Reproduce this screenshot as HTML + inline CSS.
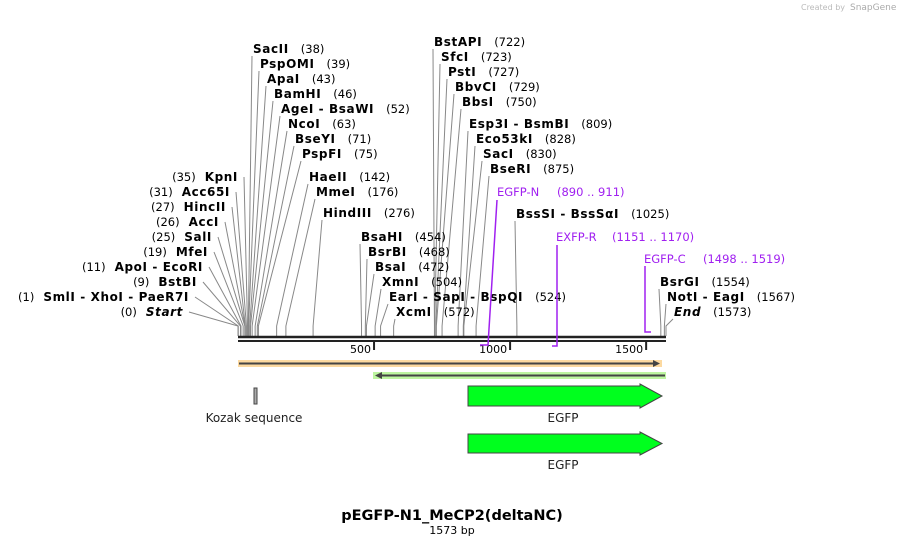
<!DOCTYPE html>
<html><head><meta charset="utf-8"><style>
html,body{margin:0;padding:0;background:#fff;}
svg{display:block;font-family:"DejaVu Sans","Liberation Sans",sans-serif;}
.n{font-weight:bold;font-size:12px;letter-spacing:0.6px;fill:#000}
.p{font-size:11.5px;fill:#000}
.pr{font-size:11.5px;fill:#a020f0}
</style></head><body>
<svg id="map" width="905" height="546" viewBox="0 0 905 546">
<text x="845" y="10" font-size="8" fill="#bbb" text-anchor="end">Created by</text>
<text x="850" y="10" font-size="9" fill="#aaa">SnapGene</text>
<g id="lines" stroke="#888" stroke-width="1" fill="none"></g>
<g id="labels"></g>
<line x1="238" y1="337" x2="666" y2="337" stroke="#222" stroke-width="2.5"/>
<line x1="238" y1="341" x2="666" y2="341" stroke="#222" stroke-width="2"/>
<g id="ticks"></g>
<g>
<polyline points="497,200 488,345 480,345" stroke="#a020f0" stroke-width="1.5" fill="none"/>
<text x="497" y="196" class="pr">EGFP-N</text><text x="557" y="196" class="pr" font-size="10.5">(890 .. 911)</text></g>
<g>
<polyline points="557,245 557,346 552,346" stroke="#a020f0" stroke-width="1.5" fill="none"/>
<text x="556" y="241" class="pr">EXFP-R</text><text x="612" y="241" class="pr" font-size="10.5">(1151 .. 1170)</text></g>
<g>
<polyline points="645,266 645,332 651,332" stroke="#a020f0" stroke-width="1.5" fill="none"/>
<text x="644" y="263" class="pr">EGFP-C</text><text x="703" y="263" class="pr" font-size="10.5">(1498 .. 1519)</text></g>
<g>
<rect x="238" y="360" width="424" height="7" fill="#fcd9a0"/>
<line x1="239" y1="363.5" x2="657" y2="363.5" stroke="#444" stroke-width="2"/>
<polygon points="653,360 660,363.5 653,367" fill="#444"/></g>
<g>
<rect x="373" y="372" width="293" height="7" fill="#bdf5a0"/>
<line x1="378" y1="375.5" x2="665" y2="375.5" stroke="#444" stroke-width="2"/>
<polygon points="382,372 375,375.5 382,379" fill="#444"/></g>
<g>
<rect x="254" y="388" width="3" height="16" fill="#aaa" stroke="#444" stroke-width="1"/>
<text x="254" y="422" text-anchor="middle" font-size="12" fill="#222">Kozak sequence</text></g>
<g>
<polygon points="468,386 640,386 640,384 662,396 640,408 640,406 468,406" fill="#00ff1e" stroke="#444" stroke-width="1"/>
<text x="563" y="422" text-anchor="middle" font-size="12" fill="#222">EGFP</text></g>
<g>
<polygon points="468,434 640,434 640,432 662,443.5 640,455 640,453 468,453" fill="#00ff1e" stroke="#444" stroke-width="1"/>
<text x="563" y="469" text-anchor="middle" font-size="12" fill="#222">EGFP</text></g>
<text x="452" y="520" text-anchor="middle" font-weight="bold" font-size="14.5" fill="#000">pEGFP-N1_MeCP2(deltaNC)</text>
<text x="452" y="534" text-anchor="middle" font-size="11" fill="#000">1573 bp</text>
</svg>
<script>
const totalLength = 1573;
const tickValues = [500, 1000, 1500];
const siteNames = ["SacII","PspOMI","ApaI","BamHI","AgeI  - BsaWI","NcoI","BseYI","PspFI","HaeII","MmeI","HindIII",
"BstAPI","SfcI","PstI","BbvCI","BbsI","Esp3I  - BsmBI","Eco53kI","SacI","BseRI","BssSI  - BssSαI",
"BsaHI","BsrBI","BsaI","XmnI","EarI  - SapI  - BspQI","XcmI","BsrGI","NotI  - EagI","End",
"KpnI","Acc65I","HincII","AccI","SalI","MfeI","ApoI  - EcoRI","BstBI","SmlI  - XhoI  - PaeR7I","Start"];
const sitePositions = [38,39,43,46,52,63,71,75,142,176,276,722,723,727,729,750,809,828,830,875,1025,454,468,472,504,524,572,1554,1567,1573,35,31,27,26,25,19,11,9,1,0];
// layout: [textX, baselineY, side] side 0 = right of line, 1 = text ends at textX
const layout = [[253,53,0],[260,68,0],[267,83,0],[274,98,0],[281,113,0],[288,128,0],[295,143,0],[302,158,0],[309,181,0],[316,196,0],[323,217,0],
[434,46,0],[441,61,0],[448,76,0],[455,91,0],[462,106,0],[469,128,0],[476,143,0],[483,158,0],[490,173,0],[516,218,0],
[361,241,0],[368,256,0],[375,271,0],[382,286,0],[389,301,0],[396,316,0],[660,286,0],[667,301,0],[674,316,0],
[238,181,1],[230,196,1],[226,211,1],[219,226,1],[212,241,1],[208,256,1],[203,271,1],[197,286,1],[189,301,1],[183,316,1]];
const X0=238, X1=666;
function xScale(bp){return X0+bp/totalLength*(X1-X0);}
const NS="http://www.w3.org/2000/svg";
const lg=document.getElementById('lines'), lb=document.getElementById('labels'), tg=document.getElementById('ticks');
siteNames.forEach((nm,i)=>{
  const [tx,ty,side]=layout[i]; const bx=xScale(sitePositions[i]);
  const g=document.createElementNS(NS,'g');
  
  
  const t=document.createElementNS(NS,'text'); t.setAttribute('class','n');
  if(nm==='Start'||nm==='End') t.setAttribute('font-style','italic');
  t.textContent=nm.replace(/  /g,'\u00a0');
  const n=document.createElementNS(NS,'text'); n.setAttribute('class','p'); n.textContent='('+sitePositions[i]+')';
  n.setAttribute('y',ty); t.setAttribute('y',ty);
  const l=document.createElementNS(NS,'polyline');
  if(side===0){
    t.setAttribute('x',tx); g.appendChild(t); lb.appendChild(g);
    const w=t.getComputedTextLength(); n.setAttribute('x',tx+w+12); g.appendChild(n);
    l.setAttribute('points',`${tx-1},${ty+3} ${bx},326 ${bx},336`);
  } else {
    t.setAttribute('x',tx); t.setAttribute('text-anchor','end'); g.appendChild(t); lb.appendChild(g);
    const w=t.getComputedTextLength(); n.setAttribute('x',tx-w-9); n.setAttribute('text-anchor','end'); g.appendChild(n);
    l.setAttribute('points',`${tx+6},${ty-4} ${bx},326 ${bx},336`);
  }
  
  
  lg.appendChild(l);
});
tickValues.forEach(v=>{
  const x=xScale(v);
  const l=document.createElementNS(NS,'line');
  l.setAttribute('x1',x);l.setAttribute('x2',x);l.setAttribute('y1',342);l.setAttribute('y2',350);
  l.setAttribute('stroke','#222');l.setAttribute('stroke-width','2');
  
  
  tg.appendChild(l);
  const t=document.createElementNS(NS,'text');
  t.setAttribute('x',x-3);t.setAttribute('y',353);t.setAttribute('text-anchor','end');t.setAttribute('font-size','11');
  t.textContent=v;
  
  
  tg.appendChild(t);
});
</script>
</body></html>
